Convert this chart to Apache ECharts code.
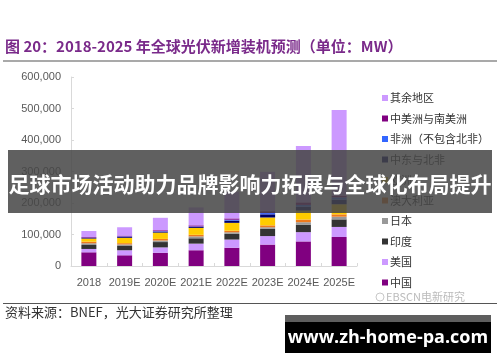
<!DOCTYPE html>
<html>
<head>
<meta charset="utf-8">
<script src="https://cdn.jsdelivr.net/npm/echarts@6/dist/echarts.min.js"></script>
<style>
html,body{margin:0;padding:0;background:#fff;}
#chart{width:500px;height:362px;}
</style>
</head>
<body>
<div id="chart"></div>
<script>
// ---- data (MW) ----
const categories = ['2018', '2019E', '2020E', '2021E', '2022E', '2023E', '2024E', '2025E'];
const china     = [43500, 34000, 42000, 50000, 58000, 68000, 78000, 92000];
const usa       = [10600, 16000, 17000, 21000, 26000, 27000, 29500, 32000];
const india     = [12500, 13500, 17000, 17000, 18000, 23000, 23000, 24000];
const japan     = [5500, 5000, 5000, 6000, 5000, 5000, 8500, 8500];
const australia = [5000, 4000, 5000, 5000, 5000, 6000, 8500, 7500];
const europe    = [10000, 17000, 20000, 22000, 25000, 25000, 28500, 32000];
const mena      = [2000, 3000, 3000, 3000, 7000, 10000, 12000, 15000];
const africa    = [1000, 1500, 1500, 1500, 3000, 4000, 6000, 7000];
const csa       = [2000, 2500, 3000, 3500, 4000, 6000, 8000, 5000];
const rest      = [19000, 26500, 39500, 57000, 85000, 125000, 179000, 272000];
const yTicks    = [0, 100000, 200000, 300000, 400000, 500000, 600000];

const seriesDefs = [
  {name: '中国', data: china, color: '#800080'},
  {name: '美国', data: usa, color: '#cc99ff'},
  {name: '印度', data: india, color: '#333333'},
  {name: '日本', data: japan, color: '#999999'},
  {name: '澳大利亚', data: australia, color: '#ee7a1c'},
  {name: '欧洲', data: europe, color: '#ffcc00'},
  {name: '中东与北非', data: mena, color: '#000066'},
  {name: '非洲（不包含北非）', data: africa, color: '#3366ff'},
  {name: '中美洲与南美洲', data: csa, color: '#800080'},
  {name: '其余地区', data: rest, color: '#cc99ff'}
];

const chart = echarts.init(document.getElementById('chart'), null, {renderer: 'canvas'});
const cjk = '"Noto Sans CJK SC", "Liberation Sans", sans-serif';
const num = '"Liberation Sans", Arial, sans-serif';

const option = {
  animation: false,
  backgroundColor: '#ffffff',
  grid: {left: 71, right: 143, top: 77, bottom: 96},
  legend: {
    orient: 'vertical',
    left: 377,
    top: 86,
    itemWidth: 6,
    itemHeight: 6,
    itemGap: 6.5,
    icon: 'rect',
    data: seriesDefs.map(s => s.name).reverse(),
    textStyle: {fontFamily: cjk, fontSize: 11, color: '#333', lineHeight: 14, padding: [0, 0, 0, -3]}
  },
  xAxis: {
    type: 'category',
    data: categories,
    axisLine: {lineStyle: {color: '#d9d9d9'}},
    axisTick: {show: true, inside: true, length: 3, lineStyle: {color: '#d9d9d9'}},
    axisLabel: {interval: 0, color: '#595959', fontFamily: num, fontSize: 11, margin: 11}
  },
  yAxis: {
    type: 'value',
    min: yTicks[0],
    max: yTicks[yTicks.length - 1],
    interval: yTicks[1] - yTicks[0],
    axisLine: {show: true, lineStyle: {color: '#d9d9d9'}},
    axisTick: {show: true, inside: true, length: 3, lineStyle: {color: '#d9d9d9'}},
    splitLine: {show: false},
    axisLabel: {
      color: '#595959', fontFamily: num, fontSize: 11, margin: 10,
      formatter: v => v.toLocaleString('en-US')
    }
  },
  series: seriesDefs.map(s => ({
    name: s.name,
    type: 'bar',
    stack: 'total',
    barWidth: 15,
    data: s.data,
    itemStyle: {color: s.color}
  })),
  graphic: [
    {type: 'text', left: 5, top: 39, z: 50,
     style: {text: '图 20：2018-2025 年全球光伏新增装机预测（单位：MW）', fill: '#7a2a8a',
             font: 'bold 15px "Noto Sans CJK SC", "Liberation Sans", sans-serif'}},
    {type: 'rect', shape: {x: 3, y: 60.5, width: 494, height: 1}, style: {fill: '#555'}, z: 50},
    {type: 'rect', shape: {x: 3, y: 303, width: 494, height: 1}, style: {fill: '#555'}, z: 50},
    {type: 'circle', shape: {cx: 380, cy: 297, r: 4}, style: {fill: 'none', stroke: '#c8c8c8', lineWidth: 1}, z: 50},
    {type: 'text', left: 386, top: 291, z: 50,
     style: {text: 'EBSCN电新研究', fill: '#bbbbbb', font: '11px "Noto Sans CJK SC", sans-serif'}},
    {type: 'text', left: 5, top: 306, z: 50,
     style: {text: '资料来源：BNEF，光大证券研究所整理', fill: '#333', font: '13px "Noto Sans CJK SC", sans-serif'}},
    // overlay banner
    {type: 'rect', shape: {x: 8, y: 150, width: 484, height: 63}, style: {fill: 'rgba(70,70,70,0.86)'}, z: 100},
    {type: 'text', x: 250, y: 184, z: 101,
     style: {text: '足球市场活动助力品牌影响力拓展与全球化布局提升', fill: '#fff', align: 'center', verticalAlign: 'middle',
             font: 'bold 21px "Noto Sans CJK SC", sans-serif'}},
    // watermark box
    {type: 'rect', shape: {x: 285, y: 315, width: 206, height: 7}, style: {fill: '#5e5e5e'}, z: 100},
    {type: 'rect', shape: {x: 285, y: 322, width: 206, height: 31}, style: {fill: '#000'}, z: 100},
    {type: 'text', x: 388, y: 337.5, z: 101,
     style: {text: 'www.zh-home-pa.com', fill: '#fff', align: 'center', verticalAlign: 'middle',
             font: 'bold 18px "Open Sans", "DejaVu Sans", sans-serif'}}
  ]
};
chart.setOption(option);
</script>
</body>
</html>
